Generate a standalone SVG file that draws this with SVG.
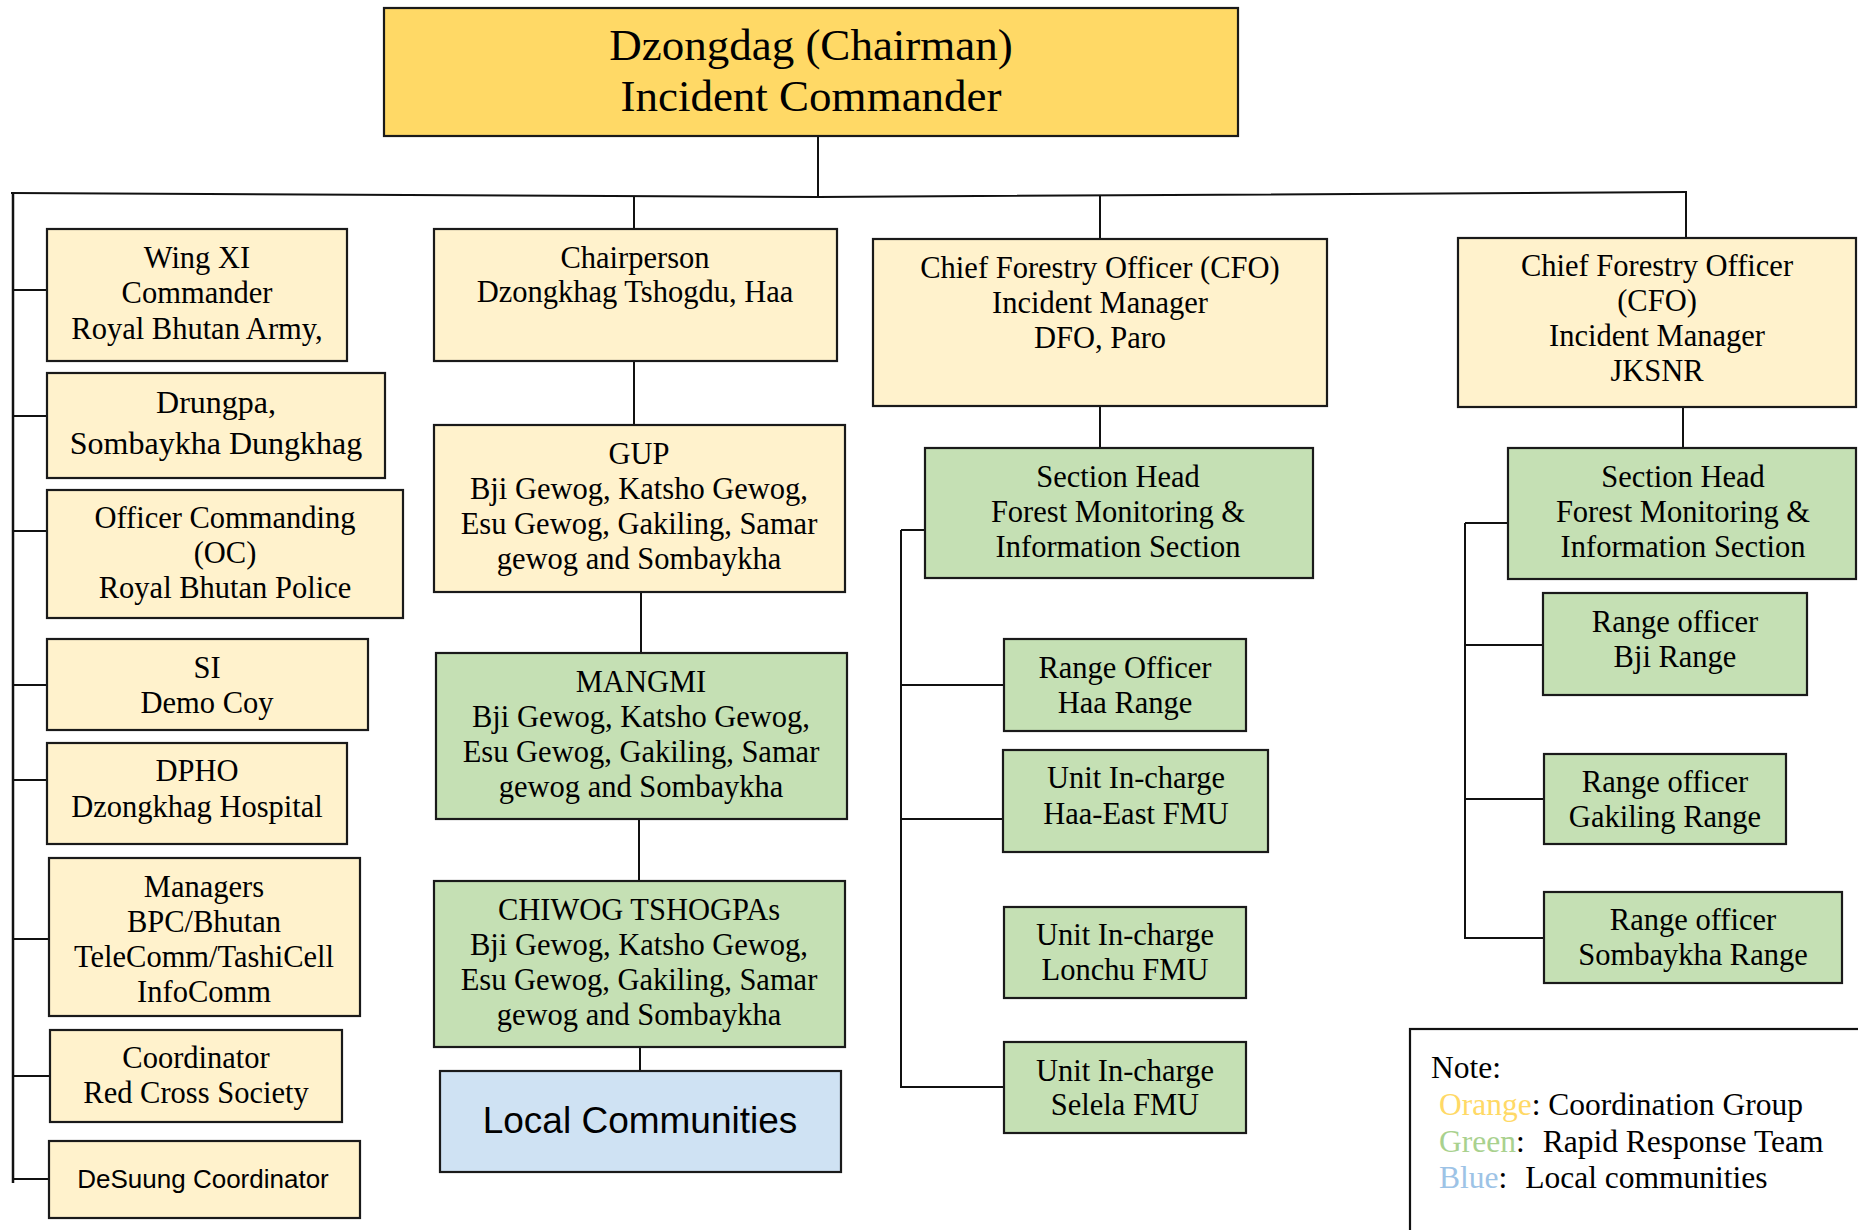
<svg xmlns="http://www.w3.org/2000/svg" width="1858" height="1230" viewBox="0 0 1858 1230">
<style>
.box{stroke:#1a1a1a;stroke-width:2.2}
.gold{fill:#FFD966}
.cream{fill:#FFF2CC}
.green{fill:#C5E0B4}
.blue{fill:#CFE2F3}
.t{font-family:"Liberation Serif","Times New Roman",serif;font-size:30.5px;fill:#000;text-anchor:middle}
.s{font-family:"Liberation Sans",Arial,sans-serif;fill:#000;text-anchor:middle}
.n{font-family:"Liberation Serif","Times New Roman",serif;font-size:31.5px;fill:#000}
.c line,.c polyline{stroke:#111;stroke-width:2;fill:none}
</style>
<rect width="1858" height="1230" fill="#fff"/>
<g class="c" id="connectors">
<line x1="818" y1="136" x2="818" y2="197"/>
<polyline points="11,193 818,197 1687,192"/>
<line x1="13" y1="192" x2="13" y2="1183" style="stroke-width:2.5"/>
<line x1="13" y1="290" x2="47" y2="290"/>
<line x1="13" y1="416" x2="47" y2="416"/>
<line x1="13" y1="531" x2="47" y2="531"/>
<line x1="13" y1="685" x2="47" y2="685"/>
<line x1="13" y1="780" x2="47" y2="780"/>
<line x1="13" y1="939" x2="49" y2="939"/>
<line x1="13" y1="1076" x2="50" y2="1076"/>
<line x1="13" y1="1179" x2="49" y2="1179"/>
<line x1="634" y1="196" x2="634" y2="229"/>
<line x1="1100" y1="196" x2="1100" y2="239"/>
<line x1="1686" y1="192" x2="1686" y2="238"/>
<line x1="634" y1="361" x2="634" y2="425"/>
<line x1="641" y1="592" x2="641" y2="653"/>
<line x1="639" y1="819" x2="639" y2="881"/>
<line x1="640" y1="1047" x2="640" y2="1071"/>
<line x1="1100" y1="406" x2="1100" y2="448"/>
<line x1="1683" y1="407" x2="1683" y2="448"/>
<line x1="901" y1="530" x2="901" y2="1088"/>
<line x1="901" y1="530" x2="925" y2="530"/>
<line x1="901" y1="685" x2="1004" y2="685"/>
<line x1="901" y1="819" x2="1003" y2="819"/>
<line x1="901" y1="1087" x2="1004" y2="1087"/>
<line x1="1465" y1="523" x2="1465" y2="939"/>
<line x1="1465" y1="523" x2="1508" y2="523"/>
<line x1="1465" y1="645" x2="1543" y2="645"/>
<line x1="1465" y1="799" x2="1544" y2="799"/>
<line x1="1465" y1="938" x2="1544" y2="938"/>
</g>
<g id="n-top"><rect class="box gold" x="384" y="8" width="854" height="128"/>
<text class="t" style="font-size:45px"><tspan x="811" y="60">Dzongdag (Chairman)</tspan><tspan x="811" y="111">Incident Commander</tspan></text></g>
<g id="n-wing"><rect class="box cream" x="47" y="229" width="300" height="132"/>
<text class="t"><tspan x="197" y="268">Wing XI</tspan><tspan x="197" y="303">Commander</tspan><tspan x="197" y="339">Royal Bhutan Army,</tspan></text></g>
<g id="n-drungpa"><rect class="box cream" x="47" y="373" width="338" height="105"/>
<text class="t" style="font-size:32px"><tspan x="216" y="413">Drungpa,</tspan><tspan x="216" y="454">Sombaykha Dungkhag</tspan></text></g>
<g id="n-oc"><rect class="box cream" x="47" y="490" width="356" height="128"/>
<text class="t"><tspan x="225" y="528">Officer Commanding</tspan><tspan x="225" y="563">(OC)</tspan><tspan x="225" y="598">Royal Bhutan Police</tspan></text></g>
<g id="n-si"><rect class="box cream" x="47" y="639" width="321" height="91"/>
<text class="t"><tspan x="207" y="678">SI</tspan><tspan x="207" y="713">Demo Coy</tspan></text></g>
<g id="n-dpho"><rect class="box cream" x="47" y="743" width="300" height="101"/>
<text class="t"><tspan x="197" y="781">DPHO</tspan><tspan x="197" y="817">Dzongkhag Hospital</tspan></text></g>
<g id="n-managers"><rect class="box cream" x="49" y="858" width="311" height="158"/>
<text class="t"><tspan x="204" y="897">Managers</tspan><tspan x="204" y="932">BPC/Bhutan</tspan><tspan x="204" y="967">TeleComm/TashiCell</tspan><tspan x="204" y="1002">InfoComm</tspan></text></g>
<g id="n-redcross"><rect class="box cream" x="50" y="1030" width="292" height="92"/>
<text class="t"><tspan x="196" y="1068">Coordinator</tspan><tspan x="196" y="1103">Red Cross Society</tspan></text></g>
<g id="n-desuung"><rect class="box cream" x="49" y="1141" width="311" height="77"/>
<text class="s" x="203" y="1188" style="font-size:26px">DeSuung Coordinator</text></g>
<g id="n-chair"><rect class="box cream" x="434" y="229" width="403" height="132"/>
<text class="t"><tspan x="635" y="268">Chairperson</tspan><tspan x="635" y="302">Dzongkhag Tshogdu, Haa</tspan></text></g>
<g id="n-gup"><rect class="box cream" x="434" y="425" width="411" height="167"/>
<text class="t"><tspan x="639" y="464">GUP</tspan><tspan x="639" y="499">Bji Gewog, Katsho Gewog,</tspan><tspan x="639" y="534">Esu Gewog, Gakiling, Samar</tspan><tspan x="639" y="569">gewog and Sombaykha</tspan></text></g>
<g id="n-mangmi"><rect class="box green" x="436" y="653" width="411" height="166"/>
<text class="t"><tspan x="641" y="692">MANGMI</tspan><tspan x="641" y="727">Bji Gewog, Katsho Gewog,</tspan><tspan x="641" y="762">Esu Gewog, Gakiling, Samar</tspan><tspan x="641" y="797">gewog and Sombaykha</tspan></text></g>
<g id="n-chiwog"><rect class="box green" x="434" y="881" width="411" height="166"/>
<text class="t"><tspan x="639" y="920">CHIWOG TSHOGPAs</tspan><tspan x="639" y="955">Bji Gewog, Katsho Gewog,</tspan><tspan x="639" y="990">Esu Gewog, Gakiling, Samar</tspan><tspan x="639" y="1025">gewog and Sombaykha</tspan></text></g>
<g id="n-local"><rect class="box blue" x="440" y="1071" width="401" height="101"/>
<text class="s" x="640" y="1133" style="font-size:37px">Local Communities</text></g>
<g id="n-cfo1"><rect class="box cream" x="873" y="239" width="454" height="167"/>
<text class="t"><tspan x="1100" y="278">Chief Forestry Officer (CFO)</tspan><tspan x="1100" y="313">Incident Manager</tspan><tspan x="1100" y="348">DFO, Paro</tspan></text></g>
<g id="n-sh1"><rect class="box green" x="925" y="448" width="388" height="130"/>
<text class="t"><tspan x="1118" y="487">Section Head</tspan><tspan x="1118" y="522">Forest Monitoring &amp;</tspan><tspan x="1118" y="557">Information Section</tspan></text></g>
<g id="n-haa"><rect class="box green" x="1004" y="639" width="242" height="92"/>
<text class="t"><tspan x="1125" y="678">Range Officer</tspan><tspan x="1125" y="713">Haa Range</tspan></text></g>
<g id="n-haaeast"><rect class="box green" x="1003" y="750" width="265" height="102"/>
<text class="t"><tspan x="1136" y="788">Unit In-charge</tspan><tspan x="1136" y="824">Haa-East FMU</tspan></text></g>
<g id="n-lonchu"><rect class="box green" x="1004" y="907" width="242" height="91"/>
<text class="t"><tspan x="1125" y="945">Unit In-charge</tspan><tspan x="1125" y="980">Lonchu FMU</tspan></text></g>
<g id="n-selela"><rect class="box green" x="1004" y="1042" width="242" height="91"/>
<text class="t"><tspan x="1125" y="1081">Unit In-charge</tspan><tspan x="1125" y="1115">Selela FMU</tspan></text></g>
<g id="n-cfo2"><rect class="box cream" x="1458" y="238" width="398" height="169"/>
<text class="t"><tspan x="1657" y="276">Chief Forestry Officer</tspan><tspan x="1657" y="311">(CFO)</tspan><tspan x="1657" y="346">Incident Manager</tspan><tspan x="1657" y="381">JKSNR</tspan></text></g>
<g id="n-sh2"><rect class="box green" x="1508" y="448" width="348" height="131"/>
<text class="t"><tspan x="1683" y="487">Section Head</tspan><tspan x="1683" y="522">Forest Monitoring &amp;</tspan><tspan x="1683" y="557">Information Section</tspan></text></g>
<g id="n-bji"><rect class="box green" x="1543" y="593" width="264" height="102"/>
<text class="t"><tspan x="1675" y="632">Range officer</tspan><tspan x="1675" y="667">Bji Range</tspan></text></g>
<g id="n-gakiling"><rect class="box green" x="1544" y="754" width="242" height="90"/>
<text class="t"><tspan x="1665" y="792">Range officer</tspan><tspan x="1665" y="827">Gakiling Range</tspan></text></g>
<g id="n-sombaykha"><rect class="box green" x="1544" y="892" width="298" height="91"/>
<text class="t"><tspan x="1693" y="930">Range officer</tspan><tspan x="1693" y="965">Sombaykha Range</tspan></text></g>
<g id="n-note"><rect x="1410" y="1029" width="470" height="230" fill="none" stroke="#111" stroke-width="2.2"/>
<text class="n" x="1431" y="1078">Note:</text>
<text class="n" x="1439" y="1115"><tspan fill="#FFD966">Orange</tspan>: Coordination Group</text>
<text class="n" x="1439" y="1152"><tspan fill="#A9D18E">Green</tspan>:<tspan dx="18">Rapid Response Team</tspan></text>
<text class="n" x="1439" y="1188"><tspan fill="#9DC3E6">Blue</tspan>:<tspan dx="18">Local communities</tspan></text>
</g>
</svg>
